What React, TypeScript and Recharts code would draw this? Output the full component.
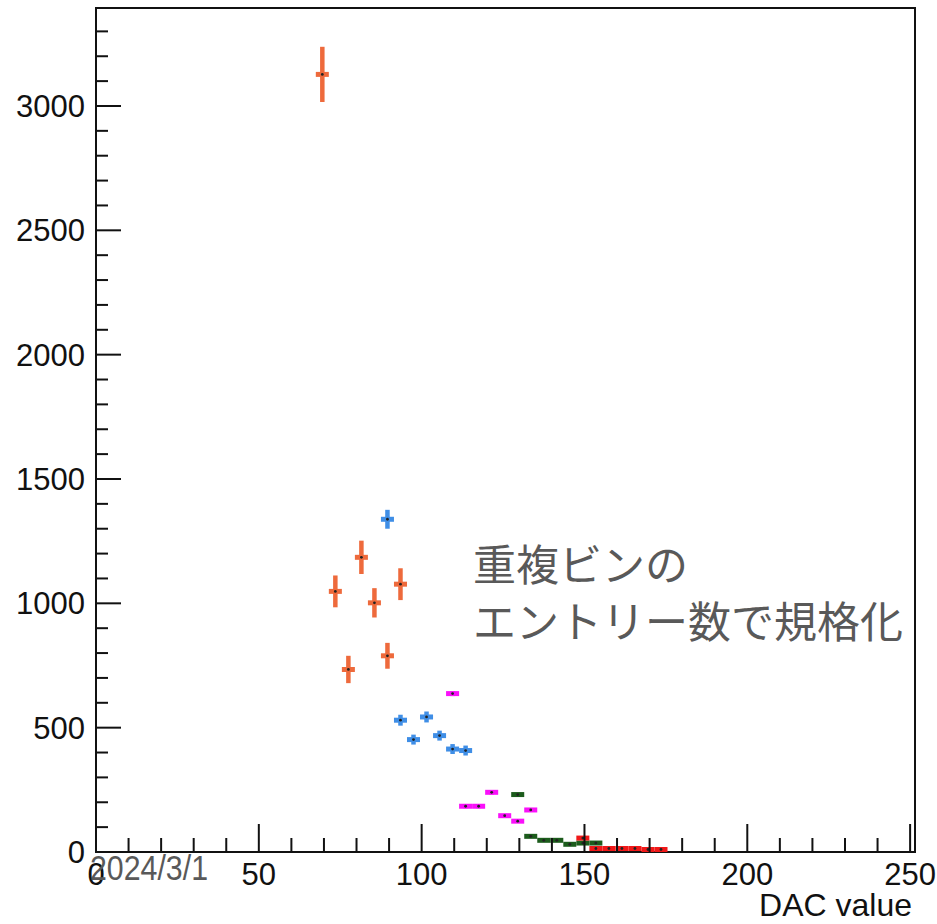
import React from 'react';
import { ScatterChart, Scatter, XAxis, YAxis, ErrorBar, ReferenceArea } from 'recharts';

// half of the 4-DAC bin width, used as the horizontal error
const BIN_HALF = 2;

const orangeX = [69.5, 73.5, 77.5, 81.5, 85.5, 89.5, 93.5];
const orangeY = [3127, 1048, 734, 1185, 1002, 789, 1077];
const orangeErrY = [111, 64, 55, 67, 59, 52, 64];

const blueX = [89.5, 93.5, 97.5, 101.5, 105.5, 109.5, 113.5];
const blueY = [1338, 530, 452, 543, 468, 414, 408];
const blueErrY = [38, 22, 20, 22, 20, 20, 20];

const magentaX = [109.5, 113.5, 117.5, 121.5, 125.5, 129.5, 133.5];
const magentaY = [637, 184, 184, 240, 146, 124, 169];
const magentaErrY = [10, 8, 8, 9, 7, 7, 8];

const greenX = [129.5, 133.5, 137.5, 141.5, 145.5, 149.5, 153.5];
const greenY = [231, 63, 47, 47, 31, 36, 36];
const greenErrY = [6, 4, 4, 4, 3, 3, 3];

const redX = [149.5, 153.5, 157.5, 161.5, 165.5, 169.5, 173.5];
const redY = [56, 14, 14, 14, 14, 10, 10];
const redErrY = [6, 2, 2, 2, 2, 2, 2];

const xTicks = [0, 10, 20, 30, 40, 50, 60, 70, 80, 90, 100, 110, 120, 130, 140, 150, 160, 170, 180, 190, 200, 210, 220, 230, 240, 250];
const yTicks = [0, 100, 200, 300, 400, 500, 600, 700, 800, 900, 1000, 1100, 1200, 1300, 1400, 1500, 1600, 1700, 1800, 1900, 2000, 2100, 2200, 2300, 2400, 2500, 2600, 2700, 2800, 2900, 3000, 3100, 3200, 3300];

const X_MAX = 251.5;
const Y_MAX = 3394;

const AXIS_FONT = '"Liberation Sans", Arial, Helvetica, sans-serif';
const INK = '#111';
const NOTE = '#595959';

type Pt = { x: number; y: number; ex: number; ey: number };

const toPoints = (xs: number[], ys: number[], eys: number[]): Pt[] =>
    xs.map((x, i) => ({ x, y: ys[i], ex: BIN_HALF, ey: eys[i] }));

const series = [
    { name: 'orange', color: '#ee6a3c', data: toPoints(orangeX, orangeY, orangeErrY) },
    { name: 'blue', color: '#3f8ee6', data: toPoints(blueX, blueY, blueErrY) },
    { name: 'magenta', color: '#fa10fa', data: toPoints(magentaX, magentaY, magentaErrY) },
    { name: 'green', color: '#1c5c1c', data: toPoints(greenX, greenY, greenErrY) },
    { name: 'red', color: '#f01818', data: toPoints(redX, redY, redErrY) },
];

// ticks point into the frame, ROOT style
const XTick = (props: any) => {
    const { x, y, payload } = props;
    const v = payload.value;
    const major = v % 50 === 0;
    return (
        <g>
            <line x1={x} x2={x} y1={y} y2={y - (major ? 28 : 14)} stroke={INK} strokeWidth={2} />
            {major && (
                <text x={x} y={y + 33} textAnchor="middle" fontSize={31} fontFamily={AXIS_FONT} fill={INK}>
                    {v}
                </text>
            )}
        </g>
    );
};

const YTick = (props: any) => {
    const { x, y, payload } = props;
    const v = payload.value;
    const major = v % 500 === 0;
    return (
        <g>
            <line x1={x} x2={x + (major ? 25 : 12)} y1={y} y2={y} stroke={INK} strokeWidth={2} />
            {major && (
                <text x={x - 11} y={y + 11} textAnchor="end" fontSize={31} fontFamily={AXIS_FONT} fill={INK}>
                    {v}
                </text>
            )}
        </g>
    );
};

const renderDot = (props: any) => <circle cx={props.cx} cy={props.cy} r={1.4} fill="#222" />;

export default function App() {
    return (
        <div style={{ position: 'absolute', left: 0, top: 0, width: 937, height: 924, background: '#fff' }}>
            <ScatterChart width={937} height={924} margin={{ top: 8, right: 22, bottom: 0, left: 0 }}>
                <XAxis
                    type="number"
                    dataKey="x"
                    domain={[0, X_MAX]}
                    ticks={xTicks}
                    interval={0}
                    height={72}
                    tickSize={0}
                    tickMargin={0}
                    axisLine={false}
                    tickLine={false}
                    tick={XTick}
                />
                <YAxis
                    type="number"
                    dataKey="y"
                    domain={[0, Y_MAX]}
                    ticks={yTicks}
                    interval={0}
                    width={96}
                    tickSize={0}
                    tickMargin={0}
                    axisLine={false}
                    tickLine={false}
                    tick={YTick}
                />
                <ReferenceArea x1={0} x2={X_MAX} y1={0} y2={Y_MAX} fill="none" stroke={INK} strokeWidth={2} ifOverflow="visible" />
                {series.map(s => (
                    <Scatter key={s.name} name={s.name} data={s.data} fill={s.color} shape={renderDot} isAnimationActive={false}>
                        <ErrorBar dataKey="ex" direction="x" width={0} stroke={s.color} strokeWidth={5} isAnimationActive={false} />
                        <ErrorBar dataKey="ey" direction="y" width={0} stroke={s.color} strokeWidth={4.5} isAnimationActive={false} />
                    </Scatter>
                ))}
            </ScatterChart>

            {/* axis title, slide date and annotation */}
            <svg width={937} height={924} style={{ position: 'absolute', left: 0, top: 0, pointerEvents: 'none' }}>
                <text x={912} y={916} textAnchor="end" fontSize={32} fontFamily={AXIS_FONT} fill={INK}>
                    DAC value
                </text>
                <text
                    x={90}
                    y={880}
                    fontSize={35}
                    textLength={118}
                    lengthAdjust="spacingAndGlyphs"
                    fontFamily='"Liberation Sans Narrow", "Arial Narrow", "Liberation Sans", sans-serif'
                    fill={NOTE}
                >
                    2024/3/1
                </text>
                <text x={473} y={581} fontSize={43} fontFamily='"Noto Sans CJK JP", sans-serif' fill={NOTE}>
                    重複ビンの
                </text>
                <text x={473} y={638} fontSize={43} fontFamily='"Noto Sans CJK JP", sans-serif' fill={NOTE}>
                    エントリー数で規格化
                </text>
            </svg>
        </div>
    );
}
